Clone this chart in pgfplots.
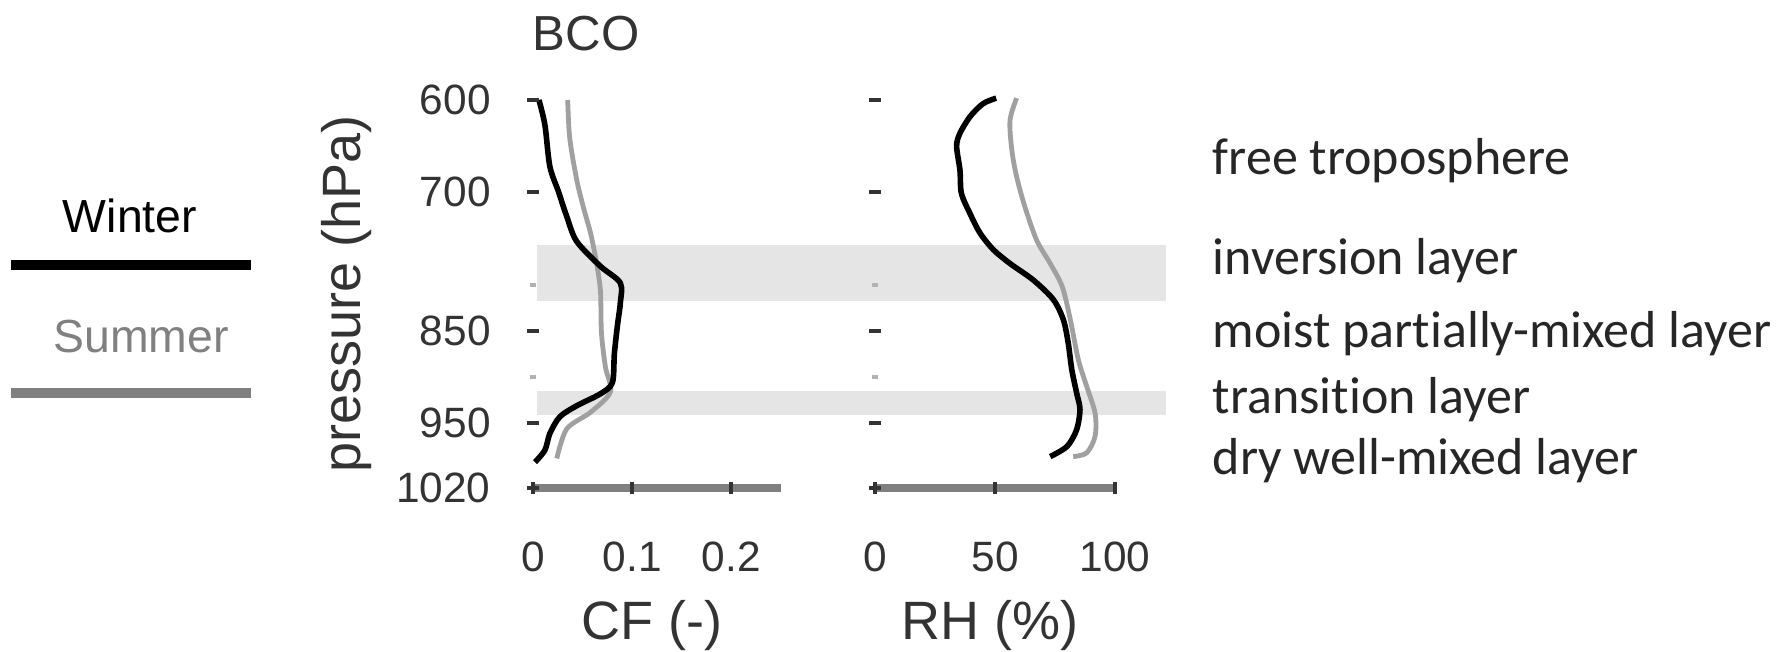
\documentclass[border=0pt]{standalone}
\usepackage{fontspec}
\setmainfont{Liberation Sans}
\newfontfamily\carlito[Ligatures={NoCommon}]{Carlito}
\usepackage{pgfplots}
\pgfplotsset{compat=1.18}
\definecolor{band}{HTML}{E5E5E5}
\definecolor{sumline}{HTML}{A0A0A0}
\definecolor{axgray}{HTML}{808080}
\definecolor{txt}{HTML}{333333}
\begin{document}
\begin{tikzpicture}
\useasboundingbox (0,0) rectangle (447pt,163pt);
\pgfplotsset{
 prof/.style={
  scale only axis, height=97pt, ymin=600, ymax=1020, y dir=reverse,
  ytick={600,700,850,950,1020},
  extra y ticks={800,900}, extra y tick labels={},
  extra y tick style={major tick length=1.6pt, tick style={color=black!30, line width=0.9pt}},
  axis line style={draw=none},
  tick align=center, major tick length=2.8pt,
  tick style={color=txt, line width=1pt},
  xtick pos=left, ytick pos=left,
  tick label style={font=\fontsize{10.6pt}{12pt}\selectfont, text=txt},
  /pgf/number format/assume math mode=true,
  xticklabel style={anchor=base, yshift=-19.5pt},
  yticklabel style={anchor=east, inner sep=0pt, xshift=-9pt},
  clip=false, axis on top,
 }
}
% left panel: cloud fraction
\begin{axis}[prof, at={(164.25pt,89.5pt)}, anchor=center, width=62pt,
  xmin=0, xmax=0.25, xtick={0,0.1,0.2}, xticklabels={0,0.1,0.2},
  yticklabels={600,700,850,950,1020}]
\fill[band] (axis cs:0.004,757) rectangle (axis cs:0.638,818);
\fill[band] (axis cs:0.004,915) rectangle (axis cs:0.638,941);
\draw[axgray, line width=2pt] (axis cs:0,1020) -- (axis cs:0.25,1020);
% summer
\addplot[sumline, line width=1.2pt, smooth, tension=0.5] coordinates {
(0.035,600) (0.037,641) (0.044,686) (0.051,717) (0.058,744) (0.064,776)
(0.068,807) (0.069,852) (0.073,889) (0.078,916) (0.058,938) (0.034,956) (0.024,988)};
% winter
\addplot[black, line width=1.4pt, smooth, tension=0.5] coordinates {
(0.006,600) (0.012,627) (0.017,672) (0.0256,699) (0.034,726) (0.044,753)
(0.068,780) (0.088,798) (0.088,820) (0.085,845) (0.082,875)
(0.080,906) (0.068,918) (0.044,931) (0.027,943) (0.017,961) (0.012,979) (0.002,992)};
\end{axis}
% right panel: relative humidity
\begin{axis}[prof, at={(248.75pt,89.5pt)}, anchor=center, width=60pt,
  xmin=0, xmax=100, xtick={0,50,100}, xticklabels={0,50,100},
  yticklabels={}]
\draw[axgray, line width=2pt] (axis cs:0,1020) -- (axis cs:101,1020);
% summer
\addplot[sumline, line width=1.2pt, smooth, tension=0.5] coordinates {
(59,598) (56.25,622) (57,654) (59,683) (62.5,716) (67.4,752) (73,777)
(78,802) (81.4,838) (84.7,881) (88.2,910) (91.7,939) (91.7,964) (88.2,982) (82.6,986)};
% winter
\addplot[black, line width=1.4pt, smooth, tension=0.5] coordinates {
(50.5,598) (45,604) (39.6,618) (35.4,636) (34,650) (35.4,676) (36,701)
(39.6,723) (43.75,744) (49.3,762) (56.25,777) (66,795) (74.3,816) (78.5,838)
(80.5,863) (82,892) (84,917) (85.4,935) (84,957) (80,975) (73,986)};
\end{axis}
% titles and labels
\node[anchor=base west, inner sep=0pt, font=\fontsize{12.3pt}{14pt}\selectfont, text=txt] at (133pt,150.25pt) {BCO};
\node[rotate=90, inner sep=0pt, font=\fontsize{13.5pt}{15pt}\selectfont, text=txt] at (86.75pt,89.6pt) {pressure (hPa)};
\node[anchor=base, inner sep=0pt, font=\fontsize{13.5pt}{15pt}\selectfont, text=txt] at (163.1pt,3pt) {CF (-)};
\node[anchor=base, inner sep=0pt, font=\fontsize{13.5pt}{15pt}\selectfont, text=txt] at (247.4pt,3pt) {RH (\%)};
% layer names
\begin{scope}[every node/.style={anchor=base west, inner sep=0pt, font=\carlito\fontsize{13pt}{15pt}\selectfont, text=black!85}]
\node at (303pt,119.25pt) {free troposphere};
\node at (303pt,94.25pt) {inversion layer};
\node at (303pt,76pt) {moist partially-mixed layer};
\node at (303pt,59.5pt) {transition layer};
\node at (303pt,44.25pt) {dry well-mixed layer};
\end{scope}
% legend
\node[anchor=base, inner sep=0pt, font=\fontsize{11.6pt}{13pt}\selectfont] at (32.5pt,104.75pt) {Winter};
\draw[black, line width=2.5pt] (2.75pt,96.75pt) -- (62.75pt,96.75pt);
\node[anchor=base, inner sep=0pt, font=\fontsize{11.6pt}{13pt}\selectfont, text=axgray] at (35.25pt,74.75pt) {Summer};
\draw[axgray, line width=2.5pt] (2.75pt,64.75pt) -- (62.75pt,64.75pt);
\end{tikzpicture}
\end{document}
